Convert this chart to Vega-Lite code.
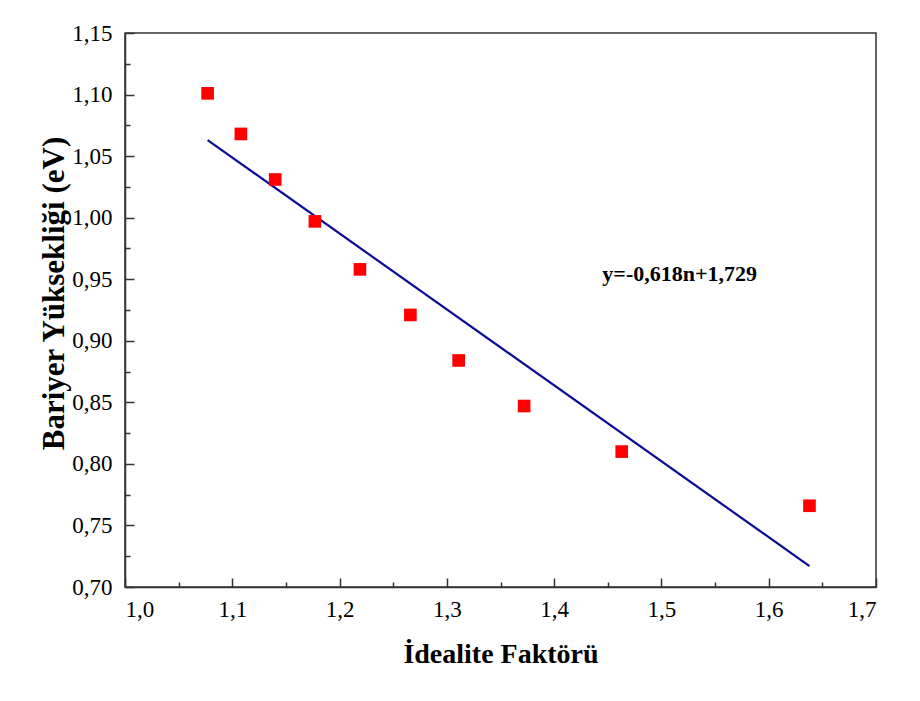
{
  "$schema": "https://vega.github.io/schema/vega-lite/v6.json",
  "width": 751,
  "height": 554,
  "autosize": "none",
  "padding": {"left": 125, "top": 33, "right": 44, "bottom": 114},
  "background": "white",
  "config": {
    "view": {"stroke": "#333333", "strokeWidth": 1.5},
    "font": "Liberation Serif",
    "axis": {
      "labelFont": "Liberation Serif",
      "titleFont": "Liberation Serif",
      "labelColor": "#000000",
      "titleColor": "#000000",
      "domainColor": "#333333",
      "tickColor": "#333333",
      "domainWidth": 1.5,
      "tickWidth": 1.5,
      "grid": false
    }
  },
  "datasets": {
    "points": [
      {"n": 1.077, "eb": 1.101},
      {"n": 1.108, "eb": 1.068},
      {"n": 1.140, "eb": 1.031},
      {"n": 1.177, "eb": 0.997},
      {"n": 1.219, "eb": 0.958},
      {"n": 1.266, "eb": 0.921},
      {"n": 1.311, "eb": 0.884},
      {"n": 1.372, "eb": 0.847},
      {"n": 1.463, "eb": 0.810},
      {"n": 1.638, "eb": 0.766}
    ],
    "fit": [
      {"n": 1.077, "eb": 1.063},
      {"n": 1.638, "eb": 0.717}
    ],
    "note": [
      {"n": 1.517, "eb": 0.954, "label": "y=-0,618n+1,729"}
    ]
  },
  "layer": [
    {
      "data": {"name": "fit"},
      "mark": {"type": "line", "color": "#0a0a96", "strokeWidth": 2.2},
      "encoding": {
        "x": {
          "field": "n", "type": "quantitative",
          "scale": {"domain": [1.0, 1.7], "nice": false, "zero": false},
          "axis": {
            "orient": "bottom",
            "values": [1.0, 1.1, 1.2, 1.3, 1.4, 1.5, 1.6, 1.7],
            "labelExpr": "replace(format(datum.value, '.1f'), '.', ',')",
            "labelFontSize": 23,
            "tickSize": -9,
            "labelPadding": 20,
            "title": "İdealite Faktörü",
            "titleFontSize": 28,
            "titleFontWeight": "bold",
            "titlePadding": 19
          }
        },
        "y": {
          "field": "eb", "type": "quantitative",
          "scale": {"domain": [0.70, 1.15], "nice": false, "zero": false},
          "axis": {
            "orient": "left",
            "values": [0.70, 0.75, 0.80, 0.85, 0.90, 0.95, 1.00, 1.05, 1.10, 1.15],
            "labelExpr": "replace(format(datum.value, '.2f'), '.', ',')",
            "labelFontSize": 23,
            "tickSize": -9,
            "labelPadding": 22,
            "title": "Bariyer Yüksekliği (eV)",
            "titleFontSize": 31,
            "titleFontWeight": "bold",
            "titlePadding": 1,
            "titleY": 260
          }
        }
      }
    },
    {
      "data": {"name": "points"},
      "mark": {"type": "square", "color": "#ff0000", "opacity": 1, "size": 160},
      "encoding": {
        "x": {
          "field": "n", "type": "quantitative",
          "axis": {
            "orient": "bottom",
            "values": [1.05, 1.15, 1.25, 1.35, 1.45, 1.55, 1.65],
            "labels": false, "domain": false, "tickSize": -5, "title": null
          }
        },
        "y": {
          "field": "eb", "type": "quantitative",
          "axis": {
            "orient": "left",
            "values": [0.725, 0.775, 0.825, 0.875, 0.925, 0.975, 1.025, 1.075, 1.125],
            "labels": false, "domain": false, "tickSize": -5, "title": null
          }
        }
      }
    },
    {
      "data": {"name": "note"},
      "mark": {"type": "text", "font": "Liberation Serif", "fontWeight": "bold", "fontSize": 22, "align": "center", "baseline": "middle", "color": "#000000"},
      "encoding": {
        "x": {"field": "n", "type": "quantitative", "axis": null},
        "y": {"field": "eb", "type": "quantitative", "axis": null},
        "text": {"field": "label", "type": "nominal"}
      }
    }
  ],
  "resolve": {"axis": {"x": "independent", "y": "independent"}}
}
